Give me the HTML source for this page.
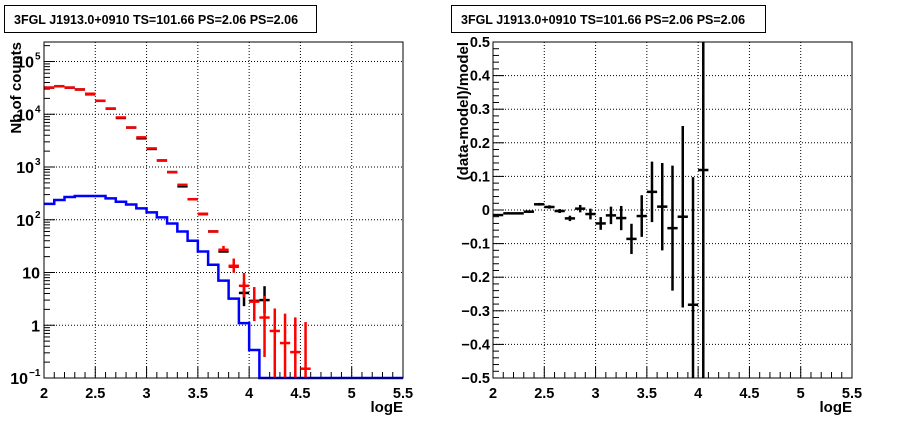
<!DOCTYPE html>
<html><head><meta charset="utf-8"><style>
body{margin:0;background:#fff}
svg text{font-family:"Liberation Sans",Arial,sans-serif;font-weight:bold}
</style></head><body>
<svg id="c" width="898" height="421" xmlns="http://www.w3.org/2000/svg"></svg>
<script>
// ---- data ----
const binCenters=[2.05,2.15,2.25,2.35,2.45,2.55,2.65,2.75,2.85,2.95,3.05,3.15,3.25,3.35,3.45,3.55,3.65,3.75,3.85,3.95,4.05,4.15,4.25,4.35,4.45,4.55];
const redCounts=[32000,34000,32000,29500,24500,18000,12800,8700,5600,3650,2250,1330,800,460,245,130,60,27,13.4,5.6,2.8,1.4,0.78,0.46,0.31,0.15];
const redErrLo=[0,0,0,0,0,0,0,0,0,0,0,0,0,0,0,0,0,0,3.5,2.2,1.6,1.15,0.78,0.46,0.31,0.15];
const redErrHi=[0,0,0,0,0,0,0,0,0,0,0,0,0,0,0,0,0,5,5,4.2,2.5,2.2,1.3,1.2,1.1,1.0];
const blackX=[2.05,2.15,2.25,2.35,2.45,2.55,2.65,2.75,2.85,2.95,3.05,3.15,3.25,3.35,3.45,3.55,3.65,3.75,3.85,3.95,4.05,4.15];
const blackCounts=[32000,34000,32000,29500,24000,18000,12800,8500,5600,3500,2200,1330,800,430,245,128,60,25,13,4.1,2.9,3.0];
const blackErrLo=[0,0,0,0,0,0,0,0,0,0,0,0,0,0,0,0,0,0,0,1.8,0,1.3];
const blackErrHi=[0,0,0,0,0,0,0,0,0,0,0,0,0,0,0,0,0,0,0,2.5,0,2.5];
const blueEdges=[2.0,2.1,2.2,2.3,2.4,2.5,2.6,2.7,2.8,2.9,3.0,3.1,3.2,3.3,3.4,3.5,3.6,3.7,3.8,3.9,4.0,4.1,5.5];
const blueCounts=[200,237,270,282,282,282,254,220,195,164,138,111,85,60,40,25,14,7,3.2,1.1,0.34,0];
const resX=[2.05,2.15,2.25,2.35,2.45,2.55,2.65,2.75,2.85,2.95,3.05,3.15,3.25,3.35,3.45,3.55,3.65,3.75,3.85,3.95,4.05];
const resVal=[-0.015,-0.01,-0.01,-0.005,0.017,0.009,-0.003,-0.025,0.004,-0.012,-0.04,-0.016,-0.024,-0.086,-0.018,0.054,0.01,-0.054,-0.02,-0.282,0.119];
const resErr=[0.003,0.003,0.003,0.004,0.004,0.005,0.006,0.008,0.011,0.016,0.019,0.026,0.036,0.045,0.062,0.09,0.13,0.186,0.27,0.38,0.8];
const xTicks=["2","2.5","3","3.5","4","4.5","5","5.5"];
const resTicks=["0.5","0.4","0.3","0.2","0.1","0","−0.1","−0.2","−0.3","−0.4","−0.5"];
const logBase=["10","1","10","10","10","10","10"];
const logExp=["−1","","","2","3","4","5"];
const title="3FGL J1913.0+0910 TS=101.66 PS=2.06 PS=2.06";

const S=document.getElementById('c'),NS="http://www.w3.org/2000/svg";
function el(t,a,txt,parent){const e=document.createElementNS(NS,t);for(const k in a)e.setAttribute(k,a[k]);if(txt!==undefined)e.textContent=txt;(parent||S).appendChild(e);return e;}
const T=42,B=378;
const L1=44,R1=403,L2=493,R2=852;
const xs1=v=>L1+(v-2)/3.5*(R1-L1), xs2=v=>L2+(v-2)/3.5*(R2-L2);
const ylog=v=>B-(Math.log10(Math.max(v,1e-3))+1)/(6.37)*(B-T);
const yres=v=>B-(v+0.5)*(B-T);
function clampY(y){return Math.min(B,Math.max(T,y));}

[[4,316],[451,765]].forEach(([a,b],i)=>{
 let r=el('rect',{x:a+0.5,y:5.5,width:b-a,height:27,fill:'#fff',stroke:'#000'});
 
 let t=el('text',{x:a+10,y:24,'font-size':12.5},title);
 
});

function frame(L,R,xs){
 for(let i=0;i<8;i++){const x=xs(2+i*0.5);
  if(i>0&&i<7){let g=el('line',{x1:x,x2:x,y1:T,y2:B,stroke:'#000','stroke-dasharray':'1,2'});}
  let t=el('text',{x:x,y:B+20,'font-size':14.5,'text-anchor':'middle'},xTicks[i]);
  
 }
 for(let i=0;i<=35;i++){const x=xs(2+i*0.1);const len=i%5==0?11:6;
  let tk=el('line',{x1:x,x2:x,y1:B,y2:B-len,stroke:'#000'});}
 let t=el('text',{x:R,y:B+34,'font-size':15,'text-anchor':'end'},'logE');
 
}

frame(L1,R1,xs1);
for(let d=-1;d<=5;d++){const y=ylog(Math.pow(10,d));
 if(d>-1){let g=el('line',{x1:L1,x2:R1,y1:y,y2:y,stroke:'#000','stroke-dasharray':'1,2'});}
 let tk=el('line',{x1:L1,x2:L1+11,y1:y,y2:y,stroke:'#000'});
 for(let m=2;m<=9;m++){const ym=ylog(m*Math.pow(10,d));if(ym<T)break;
  let mt=el('line',{x1:L1,x2:L1+6,y1:ym,y2:ym,stroke:'#000'});}
 const ex=logExp[d+1];
 const expW=ex?(ex.length*6):0;
 let lt=el('text',{x:L1-4-expW,y:y+6,'font-size':16,'text-anchor':'end'},logBase[d+1]);
 
 if(ex){let et=el('text',{x:L1-4-expW+1,y:y-2,'font-size':10},ex);
  }
}
let yt=el('text',{x:0,y:0,'font-size':15,'text-anchor':'end',transform:`translate(21,42) rotate(-90)`},'Nb of counts');

let d='';for(let i=0;i<blueCounts.length;i++){const y=clampY(ylog(blueCounts[i]||1e-3));const x0=xs1(blueEdges[i]),x1=xs1(blueEdges[i+1]);d+=(i?'L':'M')+x0+','+y+'L'+x1+','+y;}
let bl=el('path',{d:d,fill:'none',stroke:'#0000ff','stroke-width':2.5});

function errPt(xs,yf,xc,v,lo,hi,col,name){
 const x=xs(xc),hw=(xs(0.1)-xs(0))/2,y=clampY(yf(v));
 let h=el('line',{x1:x-hw,x2:x+hw,y1:y,y2:y,stroke:col,'stroke-width':2.5});
 if(lo||hi){let vl=el('line',{x1:x,x2:x,y1:clampY(yf(v+hi)),y2:clampY(yf(v-lo)),stroke:col,'stroke-width':2.5});}
}
blackX.forEach((x,i)=>errPt(xs1,ylog,x,blackCounts[i],blackErrLo[i],blackErrHi[i],'#000','model-point'));
binCenters.forEach((x,i)=>errPt(xs1,ylog,x,redCounts[i],redErrLo[i],redErrHi[i],'#ff0000','data-point'));
let f1=el('rect',{x:L1,y:T,width:R1-L1,height:B-T,fill:'none',stroke:'#000'});

frame(L2,R2,xs2);
for(let i=0;i<=50;i++){const v=-0.5+i*0.02,y=yres(v);const maj=i%5==0;
 let tk=el('line',{x1:L2,x2:L2+(maj?11:6),y1:y,y2:y,stroke:'#000'});}
for(let i=0;i<11;i++){const y=yres(0.5-i*0.1);
 if(i>0&&i<10){let g=el('line',{x1:L2,x2:R2,y1:y,y2:y,stroke:'#000','stroke-dasharray':'1,2'});}
 let lt=el('text',{x:L2-3,y:y+5,'font-size':14.5,'text-anchor':'end'},resTicks[i]);
 
}
let yt2=el('text',{x:0,y:0,'font-size':15,'text-anchor':'end',transform:`translate(468,42) rotate(-90)`},'(data-model)/model');

resX.forEach((x,i)=>errPt(xs2,yres,x,resVal[i],resErr[i],resErr[i],'#000','residual-point'));
let f2=el('rect',{x:L2,y:T,width:R2-L2,height:B-T,fill:'none',stroke:'#000'});
</script>
</body></html>
